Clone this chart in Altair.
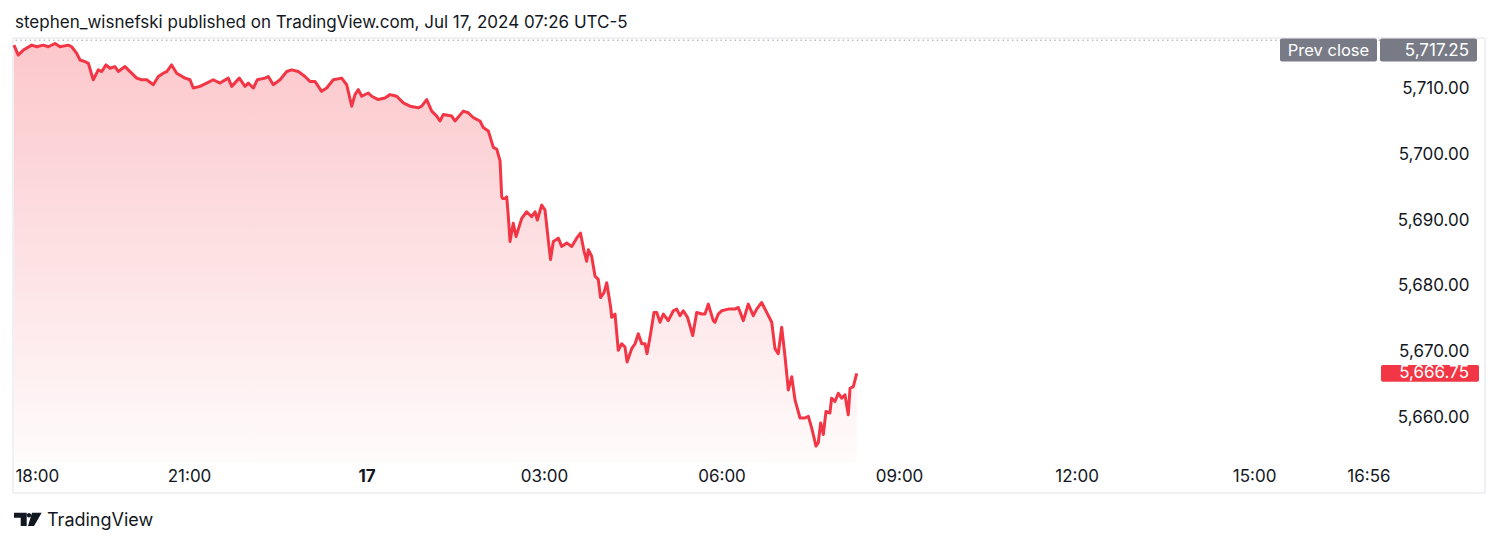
import altair as alt
import pandas as pd

# ---- data (minutes after 18:00 ET, ES futures price) ----
minutes = [
    2.5, 6.9, 12.0, 20.5, 25.6, 32.2, 37.3, 44.1, 49.2, 57.6, 61.0, 66.1, 69.5, 74.6, 77.9, 82.9,
    88.0, 91.5, 95.8, 99.9, 104.9, 108.3, 115.1, 118.4, 127.0, 132.0, 137.1, 143.8, 148.9, 153.9,
    157.4, 162.4, 167.5, 175.9, 181.0, 184.3, 191.1, 197.9, 204.6, 211.4, 219.8, 223.3, 231.0,
    236.8, 240.1, 245.2, 249.2, 257.1, 260.4, 265.5, 272.3, 279.1, 284.1, 290.8,
    297.6, 302.6, 307.7, 314.5, 319.6, 326.3, 334.8, 339.9, 345.0, 348.3, 351.7, 355.1, 361.8,
    365.3, 371.9, 378.7, 383.8, 390.6, 397.3, 404.1, 412.5, 416.0, 421.0, 426.1, 431.2, 434.5,
    437.9, 446.4, 449.7, 458.1, 463.2, 468.3, 475.1, 478.4, 483.5, 488.6, 492.0, 495.4, 497.1,
    498.1, 500.4, 502.2, 503.8, 505.5, 508.8, 511.6, 517.4, 522.4, 527.5, 530.9, 533.2, 537.6,
    541.0, 544.3, 546.6, 549.4, 554.5, 557.9, 563.0, 568.1, 573.1, 577.0, 580.6, 583.3, 584.9,
    588.3, 591.7, 595.0, 597.3, 600.8, 603.6, 607.6, 608.6, 612.0, 615.3, 618.8, 622.1, 624.2,
    628.9, 632.3, 635.6, 639.1, 642.4, 644.4, 647.5, 651.5, 654.3, 657.6, 661.0, 666.0, 671.1,
    674.5, 677.9, 681.2, 685.5, 690.8, 694.8, 699.9, 703.2, 706.6, 711.6, 713.4, 716.7, 720.2,
    726.9, 733.6, 737.0, 742.1, 747.1, 752.2, 755.6, 760.7, 765.8, 770.9, 774.2, 777.5, 781.0,
    784.4, 787.7, 791.2, 794.5, 799.6, 804.6, 808.0, 811.4, 815.8, 818.1, 820.5, 823.2, 825.9,
    829.9, 831.6, 835.0, 838.4, 841.8, 845.2, 848.5, 850.3, 853.6, 857.1,
]
prices = [
    5716.5, 5715.0, 5715.75, 5716.5, 5716.25, 5716.5, 5716.25, 5716.75, 5716.25, 5716.5, 5716.25,
    5715.25, 5714.25, 5714.0, 5713.75, 5711.25, 5712.75, 5712.5, 5713.5, 5713.0, 5713.25, 5712.5,
    5713.25, 5712.75, 5711.5, 5711.25, 5711.25, 5710.5, 5711.75, 5712.25, 5712.5, 5713.5, 5712.25,
    5711.5, 5711.25, 5710.0, 5710.25, 5710.75, 5711.25, 5710.75, 5711.5, 5710.25, 5711.5, 5710.25,
    5710.75, 5710.0, 5711.25, 5711.5, 5711.75, 5710.5, 5711.25, 5712.5, 5712.75, 5712.5,
    5711.75, 5711.0, 5711.0, 5709.5, 5710.0, 5711.25, 5711.5, 5710.5, 5707.25, 5709.0, 5709.75,
    5708.75, 5709.25, 5708.75, 5708.25, 5708.5, 5709.0, 5708.75, 5707.75, 5707.25, 5707.0, 5707.25,
    5708.25, 5706.5, 5705.75, 5705.0, 5706.0, 5705.75, 5705.0, 5706.5, 5706.25, 5705.5, 5705.0,
    5704.0, 5703.5, 5701.0, 5700.75, 5699.0, 5693.5, 5693.25, 5693.25, 5693.5, 5690.5, 5686.75,
    5689.5, 5687.5, 5690.25, 5691.25, 5690.5, 5691.25, 5690.0, 5692.25, 5691.5, 5687.0, 5684.0,
    5686.75, 5687.25, 5686.0, 5686.5, 5686.0, 5687.25, 5688.0, 5685.25, 5683.75, 5685.5, 5684.5,
    5681.5, 5681.0, 5678.25, 5679.0, 5680.5, 5676.75, 5675.25, 5675.75, 5670.25, 5671.25, 5670.75,
    5668.5, 5670.5, 5671.25, 5672.75, 5671.25, 5671.25, 5669.75, 5672.25, 5676.0, 5676.0, 5674.5,
    5675.75, 5674.75, 5676.25, 5676.5, 5675.5, 5676.25, 5675.25, 5672.5, 5676.0, 5675.75, 5675.75,
    5677.25, 5674.75, 5674.5, 5675.75, 5676.25, 5676.5, 5676.5, 5676.75, 5674.75, 5677.25, 5675.5,
    5676.5, 5677.5, 5676.0, 5674.5, 5670.5, 5669.75, 5673.75, 5669.25, 5664.25, 5666.25, 5662.75,
    5660.0, 5660.0, 5660.25, 5658.5, 5655.75, 5656.25, 5659.25, 5657.5, 5661.0, 5660.75, 5663.0,
    5662.5, 5663.75, 5663.0, 5663.5, 5660.5, 5664.5, 5664.75, 5666.75,
]
prev_close = 5717.25
last_price = 5666.75
price_ticks = [5660, 5670, 5680, 5690, 5700, 5710]
time_tick_values = [3.5, 180, 360, 540, 720, 900, 1080, 1260, 1376]
time_tick_labels = ["18:00", "21:00", "17", "03:00", "06:00", "09:00", "12:00", "15:00", "16:56"]
title_text = "stephen_wisnefski published on TradingView.com, Jul 17, 2024 07:26 UTC-5"
brand_text = "TradingView"

n = min(len(minutes), len(prices))
df = pd.DataFrame({"t": minutes[:n], "p": prices[:n]})

W, H = 1367, 424
X_DOM = [1.52, 1387.7]
Y_DOM = [5653.33, 5717.58]
FONT = "Inter"
TXT = "#131722"
RED = "#f23645"
GREY = "#787b86"
AX_FS = 17

label_expr = " : ".join(
    f"datum.value == {v} ? '{l}'" for v, l in zip(time_tick_values, time_tick_labels)
) + " : ''"

x_scale = alt.Scale(domain=X_DOM, nice=False, zero=False)
y_scale = alt.Scale(domain=Y_DOM, nice=False, zero=False)
x_axis = alt.Axis(
    values=time_tick_values, labelExpr=label_expr, title=None, grid=False,
    domain=False, ticks=False, tickSize=0, labelPadding=14, labelFlush=False,
    labelOverlap=False, labelBaseline="middle", labelFontSize=AX_FS, labelFont=FONT,
    labelColor=TXT,
    labelAlign={"condition": {"test": "datum.value < 10", "value": "left"}, "value": "center"},
    labelFontWeight={"condition": {"test": "datum.value == 360", "value": "bold"}, "value": "normal"},
)
y_axis = alt.Axis(
    orient="right", values=price_ticks, format=",.2f", title=None, grid=False,
    domain=False, ticks=False, tickSize=0, labelPadding=89, labelAlign="right",
    labelBaseline="middle", labelFontSize=AX_FS, labelFont=FONT, labelColor=TXT,
    labelOverlap=False,
)
x_enc = alt.X("t:Q", scale=x_scale, axis=x_axis)
y_enc = alt.Y("p:Q", scale=y_scale, axis=y_axis)

base = alt.Chart(df)

frame = alt.Chart(pd.DataFrame({"k": [0]})).mark_rect(
    fill="transparent", stroke="#e0e3eb", strokeWidth=1
).encode(x=alt.value(0), x2=alt.value(1472), y=alt.value(0), y2=alt.value(455))

area = base.mark_area(
    color=alt.Gradient(
        gradient="linear",
        stops=[
            alt.GradientStop(color="rgba(242,54,69,0.28)", offset=0),
            alt.GradientStop(color="rgba(242,54,69,0.02)", offset=1),
        ],
        x1=1, x2=1, y1=0, y2=1,
    )
).encode(x=x_enc, y=y_enc, y2=alt.Y2Datum(Y_DOM[0]))

line = base.mark_line(color=RED, strokeWidth=3, strokeJoin="round").encode(x=x_enc, y=y_enc)

pc_df = pd.DataFrame({"v": [prev_close], "lab": ["Prev close"]})
pc_rule = alt.Chart(pc_df).mark_rule(
    color="#9598a1", strokeWidth=1, strokeDash=[1.5, 3.2]
).encode(y=alt.YDatum(prev_close, scale=y_scale, axis=y_axis))
pc_box1 = alt.Chart(pc_df).mark_rect(fill=GREY, cornerRadius=2).encode(
    x=alt.value(1267), x2=alt.value(1364), y=alt.value(0.5), y2=alt.value(23.5)
)
pc_box2 = alt.Chart(pc_df).mark_rect(fill=GREY, cornerRadius=2).encode(
    x=alt.value(1367), x2=alt.value(1464), y=alt.value(0.5), y2=alt.value(23.5)
)
pc_t1 = alt.Chart(pc_df).mark_text(
    color="white", font=FONT, fontSize=16.5, align="center", baseline="middle"
).encode(x=alt.value(1315.5), y=alt.value(12.5), text="lab:N")
pc_t2 = alt.Chart(pc_df).mark_text(
    color="white", font=FONT, fontSize=AX_FS, align="right", baseline="middle"
).encode(x=alt.value(1456), y=alt.value(12.5), text=alt.Text("v:Q", format=",.2f"))

lp_df = pd.DataFrame({"v": [last_price]})
lp_box = alt.Chart(lp_df).mark_rect(fill=RED, cornerRadius=2).encode(
    x=alt.value(1368), x2=alt.value(1466),
    y=alt.YDatum(last_price + 1.27, scale=y_scale, axis=y_axis),
    y2=alt.Y2Datum(last_price - 1.27),
)
lp_t = alt.Chart(lp_df).mark_text(
    color="white", font=FONT, fontSize=AX_FS, align="right", baseline="middle"
).encode(
    x=alt.value(1456),
    y=alt.YDatum(last_price, scale=y_scale, axis=y_axis),
    text=alt.Text("v:Q", format=",.2f"),
)

title = alt.Chart(pd.DataFrame({"s": [title_text]})).mark_text(
    font=FONT, fontSize=17, color=TXT, align="left", baseline="alphabetic"
).encode(x=alt.value(2), y=alt.value(-10.5), text="s:N")

logo_path = (
    "M-1,-0.48L-0.083,-0.48L-0.083,0.48L-0.516,0.48L-0.516,-0.12L-1,-0.12Z "
    "M0.3,-0.48L1,-0.48L0.444,0.48L0.011,0.48Z "
    "M-0.076,-0.3A0.159,0.159 0 1,0 0.242,-0.3A0.159,0.159 0 1,0 -0.076,-0.3Z"
)
logo = alt.Chart(pd.DataFrame({"k": [0]})).mark_point(
    shape=logo_path, filled=True, fill=TXT, strokeWidth=0, opacity=1, size=767
).encode(x=alt.value(14.85), y=alt.value(481.35))
brand = alt.Chart(pd.DataFrame({"s": [brand_text]})).mark_text(
    font=FONT, fontSize=18, color=TXT, align="left", baseline="alphabetic"
).encode(x=alt.value(34), y=alt.value(487.5), text="s:N")

chart = alt.layer(
    frame, area, line, pc_rule, pc_box1, pc_box2, pc_t1, pc_t2, lp_box, lp_t, title, logo, brand
).properties(
    width=W, height=H,
    background="white",
    autosize=alt.AutoSizeParams(type="none"),
    padding={"left": 5, "top": 30, "right": 112, "bottom": 74},
).configure_view(strokeWidth=0, stroke=None)

chart.save("out.html", embed_options={"renderer": "svg", "actions": False})
